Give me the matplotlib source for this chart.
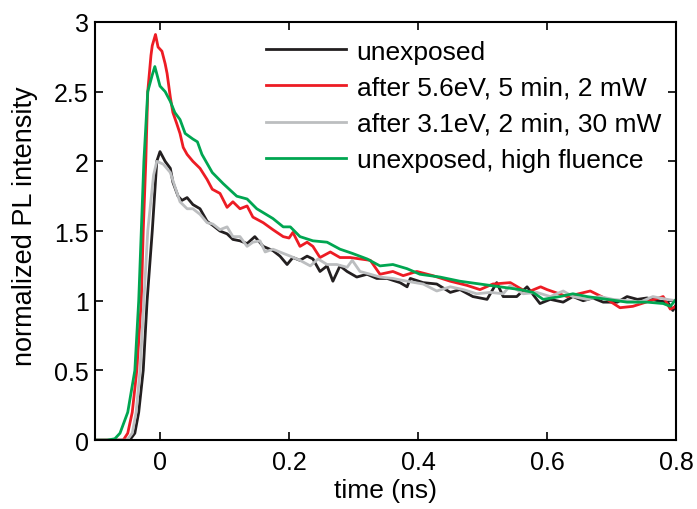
import matplotlib
matplotlib.use("Agg")
import matplotlib.pyplot as plt

plt.rcParams['font.family'] = ['Liberation Sans', 'DejaVu Sans']

# ---- data ----
black_x = [-0.10, -0.047, -0.039, -0.033, -0.026, -0.020, -0.012, -0.005, 0.0, 0.008, 0.016, 0.020,
           0.028, 0.034, 0.042, 0.051, 0.062, 0.073, 0.082, 0.093, 0.104, 0.113, 0.124, 0.135,
           0.147, 0.160, 0.175, 0.186, 0.197, 0.206, 0.217, 0.228, 0.237, 0.248, 0.259, 0.268,
           0.279, 0.290, 0.305, 0.321, 0.336, 0.352, 0.372, 0.383, 0.388, 0.408, 0.429, 0.450,
           0.465, 0.485, 0.507, 0.522, 0.532, 0.553, 0.569, 0.584, 0.589, 0.605, 0.625, 0.640,
           0.656, 0.671, 0.687, 0.709, 0.724, 0.740, 0.755, 0.771, 0.787, 0.795, 0.80]
black_y = [0.0, 0.0, 0.05, 0.2, 0.5, 1.0, 1.5, 2.0, 2.07, 2.00, 1.95, 1.85,
           1.75, 1.72, 1.74, 1.69, 1.66, 1.57, 1.54, 1.50, 1.48, 1.44, 1.43, 1.41,
           1.46, 1.39, 1.36, 1.32, 1.26, 1.31, 1.29, 1.32, 1.30, 1.21, 1.25, 1.14,
           1.25, 1.21, 1.17, 1.19, 1.16, 1.16, 1.13, 1.10, 1.16, 1.13, 1.12, 1.06,
           1.08, 1.03, 1.01, 1.13, 1.03, 1.03, 1.10, 1.01, 0.98, 1.01, 0.99, 1.03,
           1.00, 1.02, 0.99, 0.99, 1.03, 1.01, 1.02, 1.00, 0.99, 0.93, 0.97]

red_x = [-0.10, -0.057, -0.050, -0.043, -0.036, -0.029, -0.026, -0.022, -0.019, -0.014, -0.012,
         -0.007, -0.003, 0.003, 0.008, 0.011, 0.016, 0.020, 0.026, 0.031, 0.036, 0.042, 0.051,
         0.062, 0.073, 0.081, 0.093, 0.104, 0.113, 0.124, 0.135, 0.144, 0.160, 0.175, 0.191,
         0.200, 0.206, 0.217, 0.228, 0.237, 0.248, 0.264, 0.279, 0.295, 0.310, 0.326, 0.341,
         0.361, 0.377, 0.398, 0.423, 0.450, 0.476, 0.496, 0.516, 0.543, 0.569, 0.590, 0.600,
         0.631, 0.667, 0.693, 0.713, 0.733, 0.760, 0.780, 0.791, 0.80]
red_y = [0.0, 0.0, 0.05, 0.2, 0.5, 1.0, 1.5, 2.0, 2.5, 2.76, 2.83,
         2.91, 2.82, 2.79, 2.70, 2.63, 2.46, 2.35, 2.27, 2.20, 2.10, 2.05, 2.00,
         1.95, 1.87, 1.80, 1.77, 1.67, 1.71, 1.66, 1.68, 1.60, 1.56, 1.51, 1.46,
         1.45, 1.49, 1.39, 1.42, 1.39, 1.31, 1.35, 1.31, 1.31, 1.30, 1.29, 1.19,
         1.21, 1.18, 1.21, 1.18, 1.14, 1.11, 1.08, 1.12, 1.13, 1.06, 1.10, 1.08,
         1.03, 1.07, 1.01, 0.95, 0.96, 1.00, 1.03, 0.94, 0.96]

gray_x = [-0.10, -0.051, -0.043, -0.037, -0.031, -0.025, -0.019, -0.010, -0.005, 0.005, 0.016,
          0.023, 0.031, 0.042, 0.051, 0.062, 0.073, 0.082, 0.093, 0.104, 0.113, 0.124, 0.135,
          0.144, 0.155, 0.163, 0.175, 0.191, 0.202, 0.217, 0.233, 0.245, 0.259, 0.274, 0.290,
          0.298, 0.310, 0.326, 0.341, 0.361, 0.383, 0.408, 0.429, 0.450, 0.470, 0.491, 0.512,
          0.532, 0.543, 0.563, 0.584, 0.605, 0.625, 0.640, 0.662, 0.682, 0.702, 0.724, 0.744,
          0.764, 0.786, 0.80]
gray_y = [0.0, 0.0, 0.05, 0.2, 0.5, 1.0, 1.5, 1.9, 2.0, 1.98, 1.92,
          1.82, 1.71, 1.66, 1.66, 1.62, 1.56, 1.55, 1.51, 1.53, 1.46, 1.46, 1.39,
          1.42, 1.43, 1.35, 1.37, 1.34, 1.32, 1.29, 1.25, 1.30, 1.26, 1.26, 1.24,
          1.29, 1.21, 1.19, 1.17, 1.16, 1.14, 1.12, 1.07, 1.10, 1.08, 1.05, 1.06,
          1.05, 1.11, 1.05, 1.06, 1.03, 1.07, 1.03, 1.01, 1.03, 1.01, 1.00, 0.99,
          1.03, 1.01, 1.00]

green_x = [-0.10, -0.082, -0.070, -0.062, -0.050, -0.039, -0.033, -0.029, -0.025, -0.019, -0.012,
           -0.008, 0.0, 0.008, 0.016, 0.023, 0.031, 0.039, 0.051, 0.058, 0.065, 0.081, 0.098,
           0.119, 0.135, 0.150, 0.175, 0.191, 0.202, 0.217, 0.237, 0.259, 0.279, 0.298, 0.321,
           0.341, 0.361, 0.383, 0.403, 0.434, 0.465, 0.496, 0.527, 0.558, 0.578, 0.594, 0.620,
           0.640, 0.662, 0.693, 0.724, 0.755, 0.780, 0.791, 0.80]
green_y = [0.0, 0.0, 0.01, 0.05, 0.2, 0.5, 1.0, 1.5, 2.0, 2.5, 2.62,
           2.68, 2.54, 2.50, 2.43, 2.35, 2.30, 2.20, 2.16, 2.14, 2.05, 1.92, 1.84,
           1.75, 1.73, 1.66, 1.59, 1.53, 1.53, 1.46, 1.43, 1.42, 1.37, 1.34, 1.30,
           1.25, 1.26, 1.23, 1.19, 1.17, 1.14, 1.12, 1.10, 1.08, 1.06, 1.01, 1.03,
           1.05, 1.03, 1.01, 0.99, 0.99, 0.98, 0.96, 1.01]

labels = ["unexposed", "after 5.6eV, 5 min, 2 mW",
          "after 3.1eV, 2 min, 30 mW", "unexposed, high fluence"]
colors = ["#231f20", "#ed1c24", "#bcbec0", "#00a651"]

x_ticks = [0, 0.2, 0.4, 0.6, 0.8]
y_ticks = [0, 0.5, 1, 1.5, 2, 2.5, 3]
y_ticklabels = ["0", "0.5", "1", "1.5", "2", "2.5", "3"]

fig = plt.figure(figsize=(6.97, 5.10), dpi=100)
ax = fig.add_axes([0.137, 0.135, 0.833, 0.820])

series = [(black_x, black_y), (red_x, red_y), (gray_x, gray_y), (green_x, green_y)]
for (xs, ys), c, lab in zip(series, colors, labels):
    ax.plot(xs, ys, color=c, lw=2.0, label=lab)

ax.set_xlim(-0.1, 0.8)
ax.set_ylim(0, 3)
ax.set_xticks(x_ticks)
ax.set_xticklabels([("%g" % v) for v in x_ticks])
ax.set_yticks(y_ticks)
ax.set_yticklabels(y_ticklabels)
ax.tick_params(direction='in', length=6, width=1.2, labelsize=18,
               top=True, right=True, pad=5)
ax.tick_params(axis='x', pad=7)
for s in ax.spines.values():
    s.set_linewidth(1.5)

ax.set_xlabel("time (ns)", fontsize=19, labelpad=3)
ax.set_ylabel("normalized PL intensity", fontsize=19.5)
ax.yaxis.set_label_coords(-0.099, 0.513)

leg = ax.legend(loc='upper left', bbox_to_anchor=(0.293, 0.958), frameon=False,
                fontsize=19, handlelength=3.05, handletextpad=0.4,
                labelspacing=0.46, borderpad=0, borderaxespad=0)
for h in leg.get_lines():
    h.set_linewidth(2.0)

fig.savefig("out.png", dpi=100)
